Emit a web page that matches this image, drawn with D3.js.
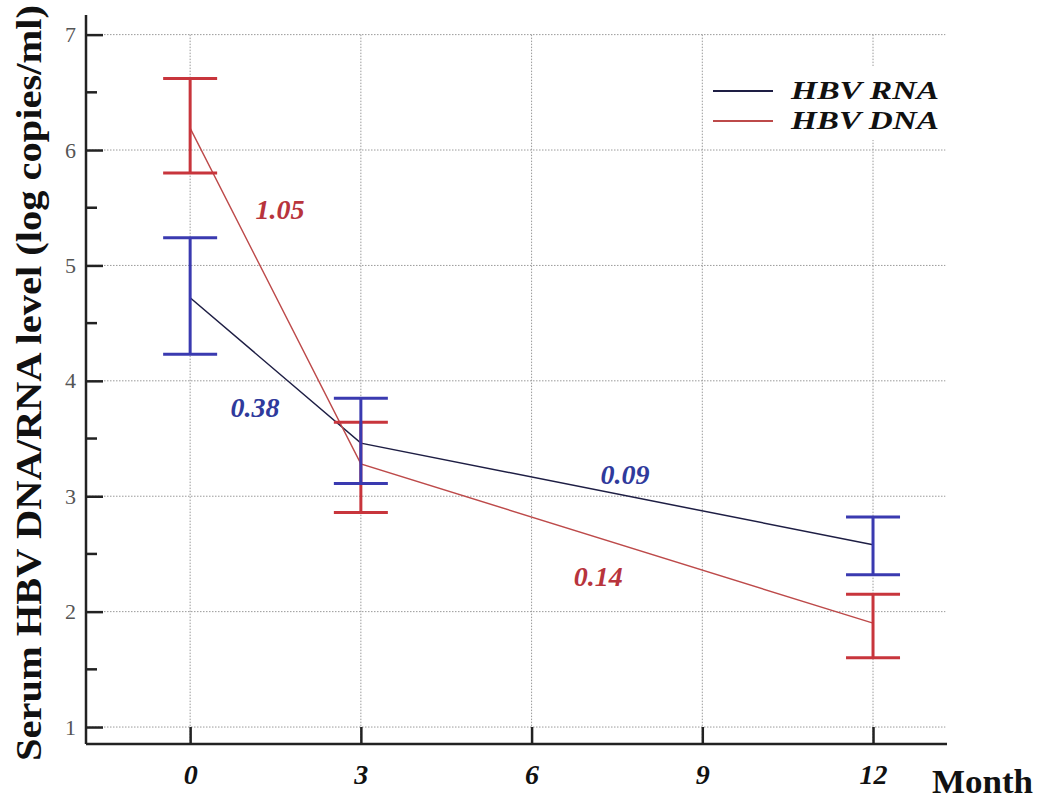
<!DOCTYPE html>
<html>
<head>
<meta charset="utf-8">
<script src="https://cdn.jsdelivr.net/npm/d3@7"></script>
<style type="text/css">
	body {
		margin: 0;
		background-color: #ffffff;
	}
	svg text {
		font-family: "Liberation Serif", "DejaVu Serif", serif;
	}
	.grid line {
		stroke: #9a9a9a;
		stroke-width: 1;
		stroke-dasharray: 1.5 1.5;
	}
</style>
</head>
<body>
<svg id="chart" width="1039" height="803"></svg>
<script type="text/javascript">

	// datos
	var months = [0, 3, 12];
	var rnaMean = [4.72, 3.46, 2.58];
	var rnaLow = [4.23, 3.11, 2.32];
	var rnaHigh = [5.24, 3.85, 2.82];
	var dnaMean = [6.19, 3.28, 1.90];
	var dnaLow = [5.80, 2.86, 1.60];
	var dnaHigh = [6.62, 3.64, 2.15];

	var xTicks = [0, 3, 6, 9, 12];
	var yTicks = [1, 2, 3, 4, 5, 6, 7];
	var yMinor = [1.5, 2.5, 3.5, 4.5, 5.5, 6.5];

	// pendientes entre visitas
	var slopeLabels = [
		{ text: "1.05", serie: "dna", x: 1.58, y: 5.40 },
		{ text: "0.38", serie: "rna", x: 1.14, y: 3.69 },
		{ text: "0.09", serie: "rna", x: 7.64, y: 3.11 },
		{ text: "0.14", serie: "dna", x: 7.17, y: 2.22 }
	];
	var legendItems = ["HBV RNA", "HBV DNA"];

	var colores = {
		rnaLine: "#1e1e44",
		dnaLine: "#bd4a4a",
		rnaBar: "#3a3ab0",
		dnaBar: "#c8353c",
		rnaText: "#2f3a9c",
		dnaText: "#b8343c"
	};

	var svg = d3.select("#chart");

	var x = d3.scaleLinear().domain([-1.83, 13.3]).range([86, 947]);
	var y = d3.scaleLinear().domain([0.853, 7.17]).range([744, 15]);

	// rejilla punteada
	var grid = svg.append("g").attr("class", "grid");
	grid.selectAll("line.h").data(yTicks).enter().append("line")
		.attr("class", "h")
		.attr("x1", x(-1.83)).attr("x2", x(13.27))
		.attr("y1", d => y(d)).attr("y2", d => y(d));
	grid.selectAll("line.v").data(xTicks).enter().append("line")
		.attr("class", "v")
		.attr("x1", d => x(d)).attr("x2", d => x(d))
		.attr("y1", y(7)).attr("y2", y(0.853));

	// leyenda (con fondo blanco que tapa la rejilla)
	var legend = svg.append("g");
	legend.append("rect")
		.attr("x", 710).attr("y", 66).attr("width", 236).attr("height", 74)
		.style("fill", "#ffffff");
	legendItems.forEach((name, i) => {
		var ly = 91 + i * 30;
		legend.append("line")
			.attr("x1", 713).attr("x2", 773)
			.attr("y1", ly).attr("y2", ly)
			.style("stroke", i == 0 ? colores.rnaLine : colores.dnaLine)
			.style("stroke-width", 2);
		legend.append("text")
			.attr("x", 791).attr("y", ly + 8)
			.attr("textLength", 148)
			.attr("lengthAdjust", "spacingAndGlyphs")
			.style("font-size", "26px")
			.style("font-weight", "bold")
			.style("font-style", "italic")
			.style("fill", "#111")
			.text(name);
	});

	// ejes
	var yAxis = d3.axisLeft(y).tickValues(yTicks).tickSize(-17).tickPadding(10)
		.tickFormat(d3.format("d"));
	var gy = svg.append("g").attr("transform", `translate(${x(-1.83)},0)`).call(yAxis);
	gy.select(".domain").attr("d", `M0,${y(7.17)}V${y(0.853)}`)
		.style("stroke", "#222").style("stroke-width", 2.5);
	gy.selectAll(".tick line").style("stroke", "#222").style("stroke-width", 2.5);
	gy.selectAll(".tick text")
		.style("font-size", "22px")
		.style("fill", "#555");

	gy.selectAll("line.minor").data(yMinor).enter().append("line")
		.attr("class", "minor")
		.attr("x1", 0).attr("x2", 11)
		.attr("y1", d => y(d)).attr("y2", d => y(d))
		.style("stroke", "#222").style("stroke-width", 2.5);

	var xAxis = d3.axisBottom(x).tickValues(xTicks).tickSize(-17).tickPadding(20)
		.tickFormat(d3.format("d"));
	var gx = svg.append("g").attr("transform", `translate(0,${y(0.853)})`).call(xAxis);
	gx.select(".domain").attr("d", `M${x(-1.83)},0H${x(13.3)}`)
		.style("stroke", "#222").style("stroke-width", 2.5);
	gx.selectAll(".tick line").style("stroke", "#222").style("stroke-width", 2.5);
	gx.selectAll(".tick text")
		.style("font-size", "28px")
		.style("font-weight", "bold")
		.style("font-style", "italic")
		.style("fill", "#111");

	svg.append("text")
		.attr("x", 932).attr("y", 793)
		.attr("textLength", 101)
		.attr("lengthAdjust", "spacingAndGlyphs")
		.style("font-size", "33px")
		.style("font-weight", "bold")
		.style("fill", "#111")
		.text("Month");

	svg.append("text")
		.attr("transform", "translate(41,383) rotate(-90)")
		.attr("text-anchor", "middle")
		.attr("textLength", 756)
		.attr("lengthAdjust", "spacingAndGlyphs")
		.style("font-size", "35px")
		.style("font-weight", "bold")
		.style("fill", "#111")
		.text("Serum HBV DNA/RNA level (log copies/ml)");

	// lineas de medias
	var rnaPts = months.map((m, i) => [m, rnaMean[i]]);
	var dnaPts = months.map((m, i) => [m, dnaMean[i]]);
	var linea = d3.line().x(d => x(d[0])).y(d => y(d[1]));

	svg.append("path").datum(rnaPts)
		.attr("d", linea)
		.style("fill", "none")
		.style("stroke", colores.rnaLine)
		.style("stroke-width", 1.5);
	svg.append("path").datum(dnaPts)
		.attr("d", linea)
		.style("fill", "none")
		.style("stroke", colores.dnaLine)
		.style("stroke-width", 1.4);

	// barras de error
	function drawErrorBars(low, high, color) {
		var g = svg.append("g").style("stroke", color).style("stroke-width", 3);
		months.forEach((m, i) => {
			g.append("line")
				.attr("x1", x(m)).attr("x2", x(m))
				.attr("y1", y(low[i])).attr("y2", y(high[i]));
			[low[i], high[i]].forEach(v => {
				g.append("line")
					.attr("x1", x(m) - 27).attr("x2", x(m) + 27)
					.attr("y1", y(v)).attr("y2", y(v));
			});
		});
	}
	drawErrorBars(dnaLow, dnaHigh, colores.dnaBar);
	drawErrorBars(rnaLow, rnaHigh, colores.rnaBar);

	// etiquetas de pendiente
	svg.selectAll("text.slope").data(slopeLabels).enter().append("text")
		.attr("class", "slope")
		.attr("x", d => x(d.x))
		.attr("y", d => y(d.y))
		.attr("text-anchor", "middle")
		.style("font-size", "28px")
		.style("font-weight", "bold")
		.style("font-style", "italic")
		.style("fill", d => d.serie == "rna" ? colores.rnaText : colores.dnaText)
		.text(d => d.text);

</script>
</body>
</html>
